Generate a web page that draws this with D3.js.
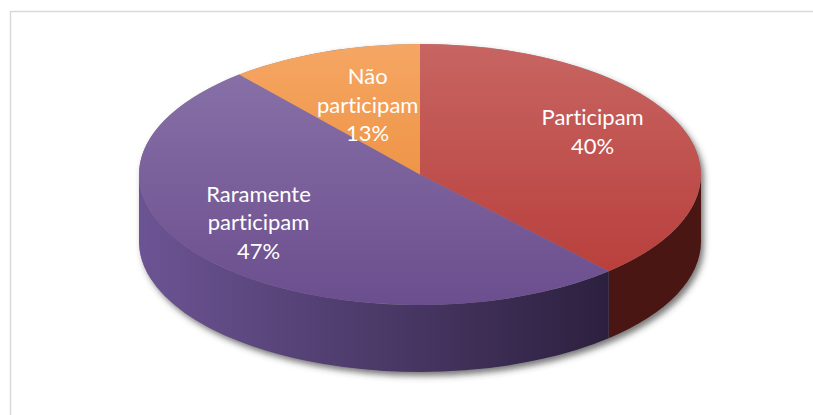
<!DOCTYPE html>
<html>
<head>
<meta charset="utf-8">
<script src="https://cdnjs.cloudflare.com/ajax/libs/d3/7.8.5/d3.min.js"></script>
<style>
  html, body { margin: 0; padding: 0; background: #fff; }
  svg { display: block; }
</style>
</head>
<body>
<svg id="chart" width="813" height="415"></svg>
<script>
// data
var categories = ["Participam", "Raramente participam", "Não participam"];
var values = [40, 47, 13];
var topColors = [["#c76562", "#b73a37"], ["#8b74aa", "#6b4e8e"], ["#f6a664", "#e6842a"]];
var sideColors = [["#511c19", "#4a1614"], ["#6c5494", "#2b1f3d"], ["#e07a2a", "#c0641e"]];

var svg = d3.select("#chart");
var cx = 420, cy = 174.5, rx = 281, ry = 130.5, depth = 67;
var tilt = 0.17; // fake perspective, front gets wider

// frame
svg.append("rect")
    .attr("x", 10.5).attr("y", 11.5)
    .attr("width", 900).attr("height", 500)
    .attr("fill", "none")
    .attr("stroke", "#d9d9d9")
    .attr("stroke-width", 1.5);

var defs = svg.append("defs");
var shadow = defs.append("filter").attr("id", "shadow")
    .attr("x", "-10%").attr("y", "-10%").attr("width", "120%").attr("height", "130%");
shadow.append("feDropShadow")
    .attr("dx", 3).attr("dy", 4).attr("stdDeviation", 3)
    .attr("flood-color", "#404040").attr("flood-opacity", 0.7);

topColors.forEach(function (c, i) {
    var g = defs.append("linearGradient").attr("id", "top" + i)
        .attr("gradientUnits", "userSpaceOnUse")
        .attr("x1", 0).attr("y1", cy - ry).attr("x2", 0).attr("y2", cy + ry);
    g.append("stop").attr("offset", "0%").attr("stop-color", c[0]);
    g.append("stop").attr("offset", "100%").attr("stop-color", c[1]);
});
sideColors.forEach(function (c, i) {
    var g = defs.append("linearGradient").attr("id", "side" + i)
        .attr("gradientUnits", "userSpaceOnUse")
        .attr("x1", cx - rx).attr("y1", 0).attr("x2", cx + rx * 0.7).attr("y2", 0);
    g.append("stop").attr("offset", "0%").attr("stop-color", c[0]);
    g.append("stop").attr("offset", "100%").attr("stop-color", c[1]);
});

var pie = d3.pie().sort(null).value(function (d) { return d; });
var arcs = pie(values);

// true angle -> angle seen on the ellipse
function persp(t) {
    var c = Math.cos(t);
    var p = Math.acos((c + tilt) / (1 + tilt * c));
    if (t > Math.PI + 1e-9) p = 2 * Math.PI - p;
    return p;
}
function pt(a, dy, r) {
    r = r === undefined ? 1 : r;
    return [cx + rx * r * Math.sin(a), cy - ry * r * Math.cos(a) + (dy || 0)];
}

// shadow under the whole disc
svg.append("path")
    .attr("d", "M" + (cx + rx) + "," + cy + "L" + (cx + rx) + "," + (cy + depth) +
        "A" + rx + "," + ry + " 0 0 1 " + (cx - rx) + "," + (cy + depth) +
        "L" + (cx - rx) + "," + cy +
        "A" + rx + "," + ry + " 0 0 1 " + (cx + rx) + "," + cy + "Z")
    .attr("fill", "#888")
    .attr("filter", "url(#shadow)");

// sides (only the front half shows)
arcs.forEach(function (d, i) {
    var a0 = Math.max(persp(d.startAngle), Math.PI / 2);
    var a1 = Math.min(persp(d.endAngle), 3 * Math.PI / 2);
    if (a1 <= a0) return;
    var p0 = pt(a0), p1 = pt(a1), q1 = pt(a1, depth), q0 = pt(a0, depth);
    svg.append("path")
        .attr("d", "M" + p0 + "A" + rx + "," + ry + " 0 0 1 " + p1 +
            "L" + q1 + "A" + rx + "," + ry + " 0 0 0 " + q0 + "Z")
        .attr("fill", "url(#side" + i + ")");
});

// top faces
arcs.forEach(function (d, i) {
    var a0 = persp(d.startAngle), a1 = persp(d.endAngle);
    var large = (a1 - a0) > Math.PI ? 1 : 0;
    svg.append("path")
        .attr("d", "M" + cx + "," + cy + "L" + pt(a0) +
            "A" + rx + "," + ry + " 0 " + large + " 1 " + pt(a1) + "Z")
        .attr("fill", "url(#top" + i + ")");
});

// labels
var lineH = 28.5;
arcs.forEach(function (d, i) {
    var mid = persp((d.startAngle + d.endAngle) / 2);
    var r = d.value < 20 ? 0.55 : 0.69;
    var p = pt(mid, 0, r);
    var lines = categories[i].split(" ");
    lines.push(Math.round(d.value / d3.sum(values) * 100) + "%");
    var y0 = p[1] - (lines.length - 1) * lineH / 2 + 6;
    var t = svg.append("text")
        .attr("text-anchor", "middle")
        .attr("fill", "#ffffff")
        .style("font-family", "Lato, 'Open Sans', sans-serif")
        .style("font-size", "22px")
        .style("font-variant-ligatures", "none")
        .style("font-feature-settings", "'liga' 0");
    lines.forEach(function (s, k) {
        t.append("tspan").attr("x", p[0]).attr("y", y0 + k * lineH).text(s);
    });
});
</script>
</body>
</html>
